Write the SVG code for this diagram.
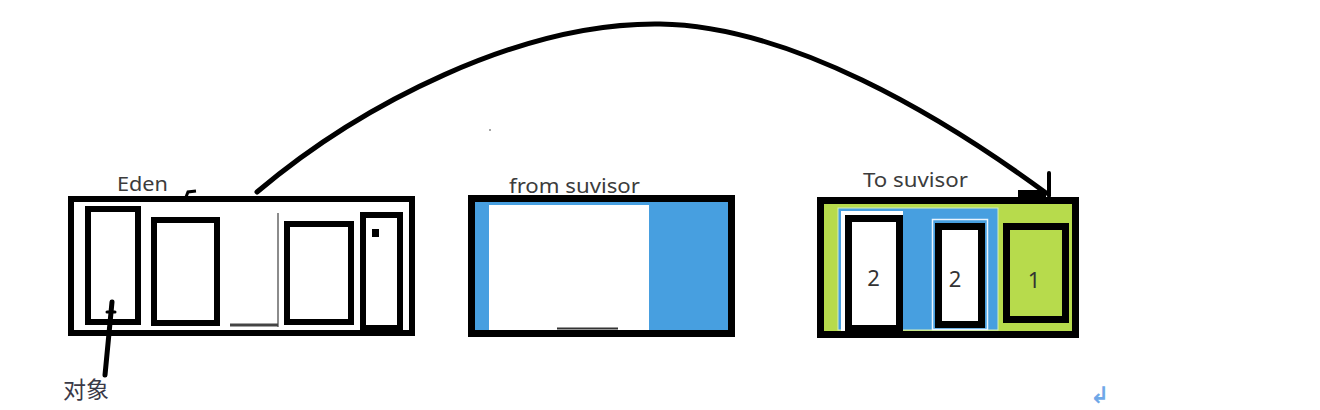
<svg xmlns="http://www.w3.org/2000/svg" width="1320" height="410" viewBox="0 0 1320 410">
<style>
.lbl{font-family:"Noto Sans","Liberation Sans",sans-serif;fill:#3c3c3c}
.num{font-family:"Noto Sans","Liberation Sans",sans-serif;fill:#333;text-anchor:middle;font-size:22px}
.box{fill:none;stroke:#000;stroke-width:6}
.ibox{stroke:#000;stroke-width:7}
</style>
<rect width="1320" height="410" fill="#fff"/>
<circle cx="490" cy="130" r="1" fill="#888"/>
<g id="eden">
  <rect class="box" x="71" y="199" width="341" height="134"/>
  <rect class="box" x="88" y="209" width="50" height="113"/>
  <rect class="box" x="154" y="220" width="63" height="103"/>
  <rect class="box" x="287" y="224" width="64" height="98"/>
  <rect class="box" x="363" y="215" width="37" height="114"/>
  <rect x="360" y="325" width="43" height="7" fill="#000"/>
  <rect x="372" y="229" width="7" height="8" fill="#000"/>
  <line x1="278" y1="213" x2="278" y2="327" stroke="#666" stroke-width="1.5"/>
  <line x1="230" y1="325" x2="278" y2="325" stroke="#444" stroke-width="3"/>
  <path d="M186,197 L188,192 L196,191" fill="none" stroke="#000" stroke-width="3"/>
  <text class="lbl" x="117" y="191" font-size="19" textLength="51" lengthAdjust="spacingAndGlyphs">Eden</text>
</g>
<g id="from">
  <rect x="471.5" y="198.5" width="260" height="135" fill="#479fe0"/>
  <rect x="489" y="205" width="160" height="126" fill="#fff"/>
  <line x1="557" y1="328.5" x2="618" y2="328.5" stroke="#333" stroke-width="2"/>
  <rect x="471.5" y="198.5" width="260" height="135" fill="none" stroke="#000" stroke-width="7"/>
  <text class="lbl" x="509" y="193" font-size="20" textLength="131" lengthAdjust="spacingAndGlyphs">from suvisor</text>
</g>
<g id="to">
  <rect x="820.5" y="200.5" width="255" height="134" fill="#b7db4c"/>
  <rect x="838" y="208" width="160" height="122" fill="#479fe0" stroke="#d6efc0" stroke-width="1"/>
  <rect x="841" y="211" width="62" height="120" fill="#fff"/>
  <rect class="ibox" x="848.5" y="218.5" width="51" height="110" fill="#fff"/>
  <rect x="932.5" y="219.5" width="55" height="110" fill="none" stroke="#e8f4ff" stroke-width="1.5"/>
  <rect class="ibox" x="938.5" y="226.5" width="43" height="98" fill="#fff"/>
  <rect class="ibox" x="1006.5" y="226.5" width="59" height="93" fill="#b7db4c"/>
  <rect x="820.5" y="200.5" width="255" height="134" fill="none" stroke="#000" stroke-width="7"/>
  <text class="num" x="873.5" y="286">2</text>
  <text class="num" x="955" y="287">2</text>
  <text class="num" x="1034" y="288">1</text>
  <text class="lbl" x="863" y="187" font-size="20" textLength="105" lengthAdjust="spacingAndGlyphs">To suvisor</text>
</g>
<g id="object-label">
  <text x="63" y="398" font-size="23" font-family="'Noto Sans CJK SC','Noto Sans',sans-serif" fill="#3a3a48">对象</text>
</g>
<g id="connectors" fill="none" stroke="#000" stroke-linecap="round">
  <path d="M257,192 C360,105 520,22 660,24 C790,26 940,115 1046,193" stroke-width="5"/>
  <line x1="1049" y1="173" x2="1049" y2="196" stroke-width="4"/>
  <rect x="1018" y="190" width="28" height="7" fill="#000" stroke="none"/>
  <line x1="112" y1="302" x2="105" y2="375" stroke-width="5"/>
  <line x1="107" y1="312" x2="115" y2="312" stroke-width="3"/>
</g>
<text x="1090" y="403" font-size="23" font-weight="bold" font-family="'DejaVu Sans',sans-serif" fill="#6fa8e8">↲</text>
</svg>
